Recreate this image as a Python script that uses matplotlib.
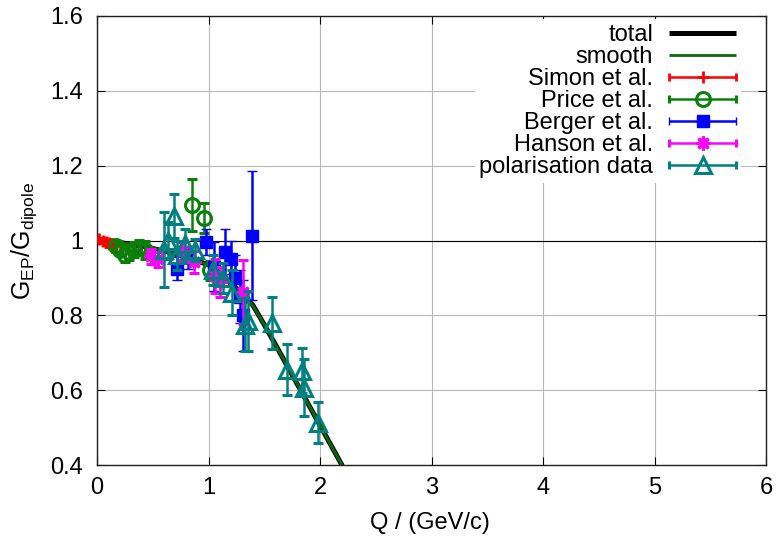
import numpy as np
import matplotlib
matplotlib.use("Agg")
import matplotlib.pyplot as plt
from matplotlib.container import ErrorbarContainer
from matplotlib.legend_handler import HandlerErrorbar
from matplotlib.ticker import FuncFormatter

# ---- model curves ----
q_curve = [0.0, 0.2, 0.4, 0.6, 0.8, 1.0, 1.1, 1.2, 1.3, 1.4, 1.5, 1.6, 1.7, 1.8, 1.9, 2.0, 2.1, 2.2]
ge_total = [1.0, 0.995, 0.985, 0.972, 0.955, 0.935, 0.91, 0.885, 0.86, 0.826, 0.775, 0.722, 0.668,
            0.614, 0.56, 0.506, 0.452, 0.398]
ge_smooth = [1.0, 0.995, 0.986, 0.973, 0.956, 0.934, 0.91, 0.884, 0.858, 0.825, 0.775, 0.722, 0.668,
             0.614, 0.56, 0.506, 0.452, 0.398]

# ---- measurements: Q, G_E/G_dipole, uncertainty ----
simon_q = [0.02, 0.05, 0.08, 0.11, 0.14, 0.17]
simon_g = [1.003, 1.0, 0.997, 0.993, 0.988, 0.984]
simon_e = [0.005, 0.006, 0.008, 0.01, 0.012, 0.015]

price_q = [0.17, 0.21, 0.25, 0.29, 0.33, 0.38, 0.43, 0.85, 0.96, 1.01]
price_g = [0.985, 0.975, 0.962, 0.968, 0.975, 0.982, 0.975, 1.095, 1.06, 0.92]
price_e = [0.015, 0.015, 0.02, 0.02, 0.02, 0.02, 0.025, 0.07, 0.04, 0.025]

berger_q = [0.72, 0.82, 0.98, 1.05, 1.15, 1.2, 1.24, 1.28, 1.31, 1.39]
berger_g = [0.925, 0.955, 0.995, 0.93, 0.97, 0.95, 0.90, 0.85, 0.80, 1.013]
berger_e = [0.03, 0.03, 0.035, 0.065, 0.06, 0.05, 0.06, 0.07, 0.095, 0.172]

hanson_q = [0.48, 0.55, 0.77, 0.87, 1.06, 1.1, 1.31]
hanson_g = [0.958, 0.95, 0.972, 0.943, 0.905, 0.89, 0.862]
hanson_e = [0.02, 0.02, 0.025, 0.03, 0.045, 0.04, 0.085]

pol_q = [0.60, 0.64, 0.69, 0.72, 0.79, 0.88, 1.04, 1.13, 1.21, 1.33, 1.35, 1.57, 1.70, 1.84, 1.86, 1.98]
pol_g = [0.975, 1.0, 1.065, 0.96, 0.99, 0.975, 0.92, 0.90, 0.86, 0.775, 0.785, 0.78, 0.655, 0.652,
         0.607, 0.513]
pol_e = [0.1, 0.05, 0.058, 0.04, 0.04, 0.03, 0.04, 0.04, 0.06, 0.07, 0.08, 0.07, 0.068, 0.06,
         0.075, 0.055]

x_ticks = [0, 1, 2, 3, 4, 5, 6]
y_ticks = [0.4, 0.6, 0.8, 1.0, 1.2, 1.4, 1.6]

plt.rcParams['font.family'] = ['Liberation Sans', 'DejaVu Sans']
plt.rcParams['mathtext.fontset'] = 'custom'
plt.rcParams['mathtext.rm'] = 'Liberation Sans'
plt.rcParams['mathtext.it'] = 'Liberation Sans'
plt.rcParams['mathtext.sf'] = 'Liberation Sans'
plt.rcParams['mathtext.bf'] = 'Liberation Sans:bold'

FS = 17

fig = plt.figure(figsize=(7.76, 5.38), dpi=100)
ax = fig.add_axes([97 / 776, 1 - 465 / 538, 669 / 776, 449 / 538])

ax.set_axisbelow(True)
ax.grid(True, color='#b8b8b8', lw=0.8)
ax.axhline(1.0, color='black', lw=0.8, zorder=1.5)

l_total, = ax.plot(q_curve, ge_total, color='black', lw=3.6, solid_capstyle='butt', zorder=2)
l_smooth, = ax.plot(q_curve, ge_smooth, color='#0b6b0b', lw=2.0, solid_capstyle='butt', zorder=2.1)

series = [
    ("Simon et al.", simon_q, simon_g, simon_e,
     dict(marker='+', color='#ff0000', ms=9, mew=2.0)),
    ("Price et al.", price_q, price_g, price_e,
     dict(marker='o', color='#0a800a', ms=10, mew=2.2, mfc='none')),
    ("Berger et al.", berger_q, berger_g, berger_e,
     dict(marker='s', color='#0000ff', ms=9, mew=1.0)),
    ("Hanson et al.", hanson_q, hanson_g, hanson_e,
     dict(marker=(8, 2, 0), color='#ff00ff', ms=10, mew=2.2)),
    ("polarisation data", pol_q, pol_g, pol_e,
     dict(marker='^', color='#008080', ms=12, mew=2.2, mfc='none')),
]

handles = [l_total, l_smooth]
labels = ["total", "smooth"]
for i, (name, q, g, e, st) in enumerate(series):
    ax.errorbar(q, g, yerr=e, linestyle='none', elinewidth=1.8, capsize=3.8, capthick=1.8,
                zorder=3 + i, **st)
    # key sample drawn as a horizontal bar with end caps
    proxy = ax.errorbar([np.nan], [np.nan], xerr=[1.0], linestyle='none', elinewidth=1.8,
                        capsize=3.2, capthick=1.8, **st)
    handles.append(proxy)
    labels.append(name)

ax.set_xlim(0, 6)
ax.set_ylim(0.4, 1.6)
ax.set_xticks(x_ticks)
ax.set_yticks(y_ticks)
ax.yaxis.set_major_formatter(FuncFormatter(lambda v, p: f"{v:g}"))
ax.tick_params(axis='both', direction='in', length=6, width=0.8, top=True, right=True,
               labelsize=FS, colors='black')
ax.tick_params(axis='x', pad=9)
ax.tick_params(axis='y', pad=10)
for sp in ax.spines.values():
    sp.set_linewidth(1.0)
    sp.set_color('#202020')

ax.set_xlabel("Q / (GeV/c)", fontsize=FS)
ax.xaxis.set_label_coords(0.498, -0.105)
ax.set_ylabel(r"$\mathregular{G_{EP}/G_{dipole}}$", fontsize=FS + 1)
ax.yaxis.set_label_coords(-0.087, 0.5)

leg = ax.legend(handles, labels, loc='upper right', bbox_to_anchor=(0.9626, 0.993),
                borderaxespad=0.0, borderpad=0.2, fontsize=FS, markerfirst=False,
                frameon=True, fancybox=False, framealpha=1.0, facecolor='white',
                edgecolor='none', labelspacing=0.0, handlelength=2.84,
                handletextpad=0.68, numpoints=1,
                handler_map={ErrorbarContainer: HandlerErrorbar(xerr_size=1.42)})
leg.set_zorder(10)

fig.savefig("out.png", dpi=100, facecolor='white')
